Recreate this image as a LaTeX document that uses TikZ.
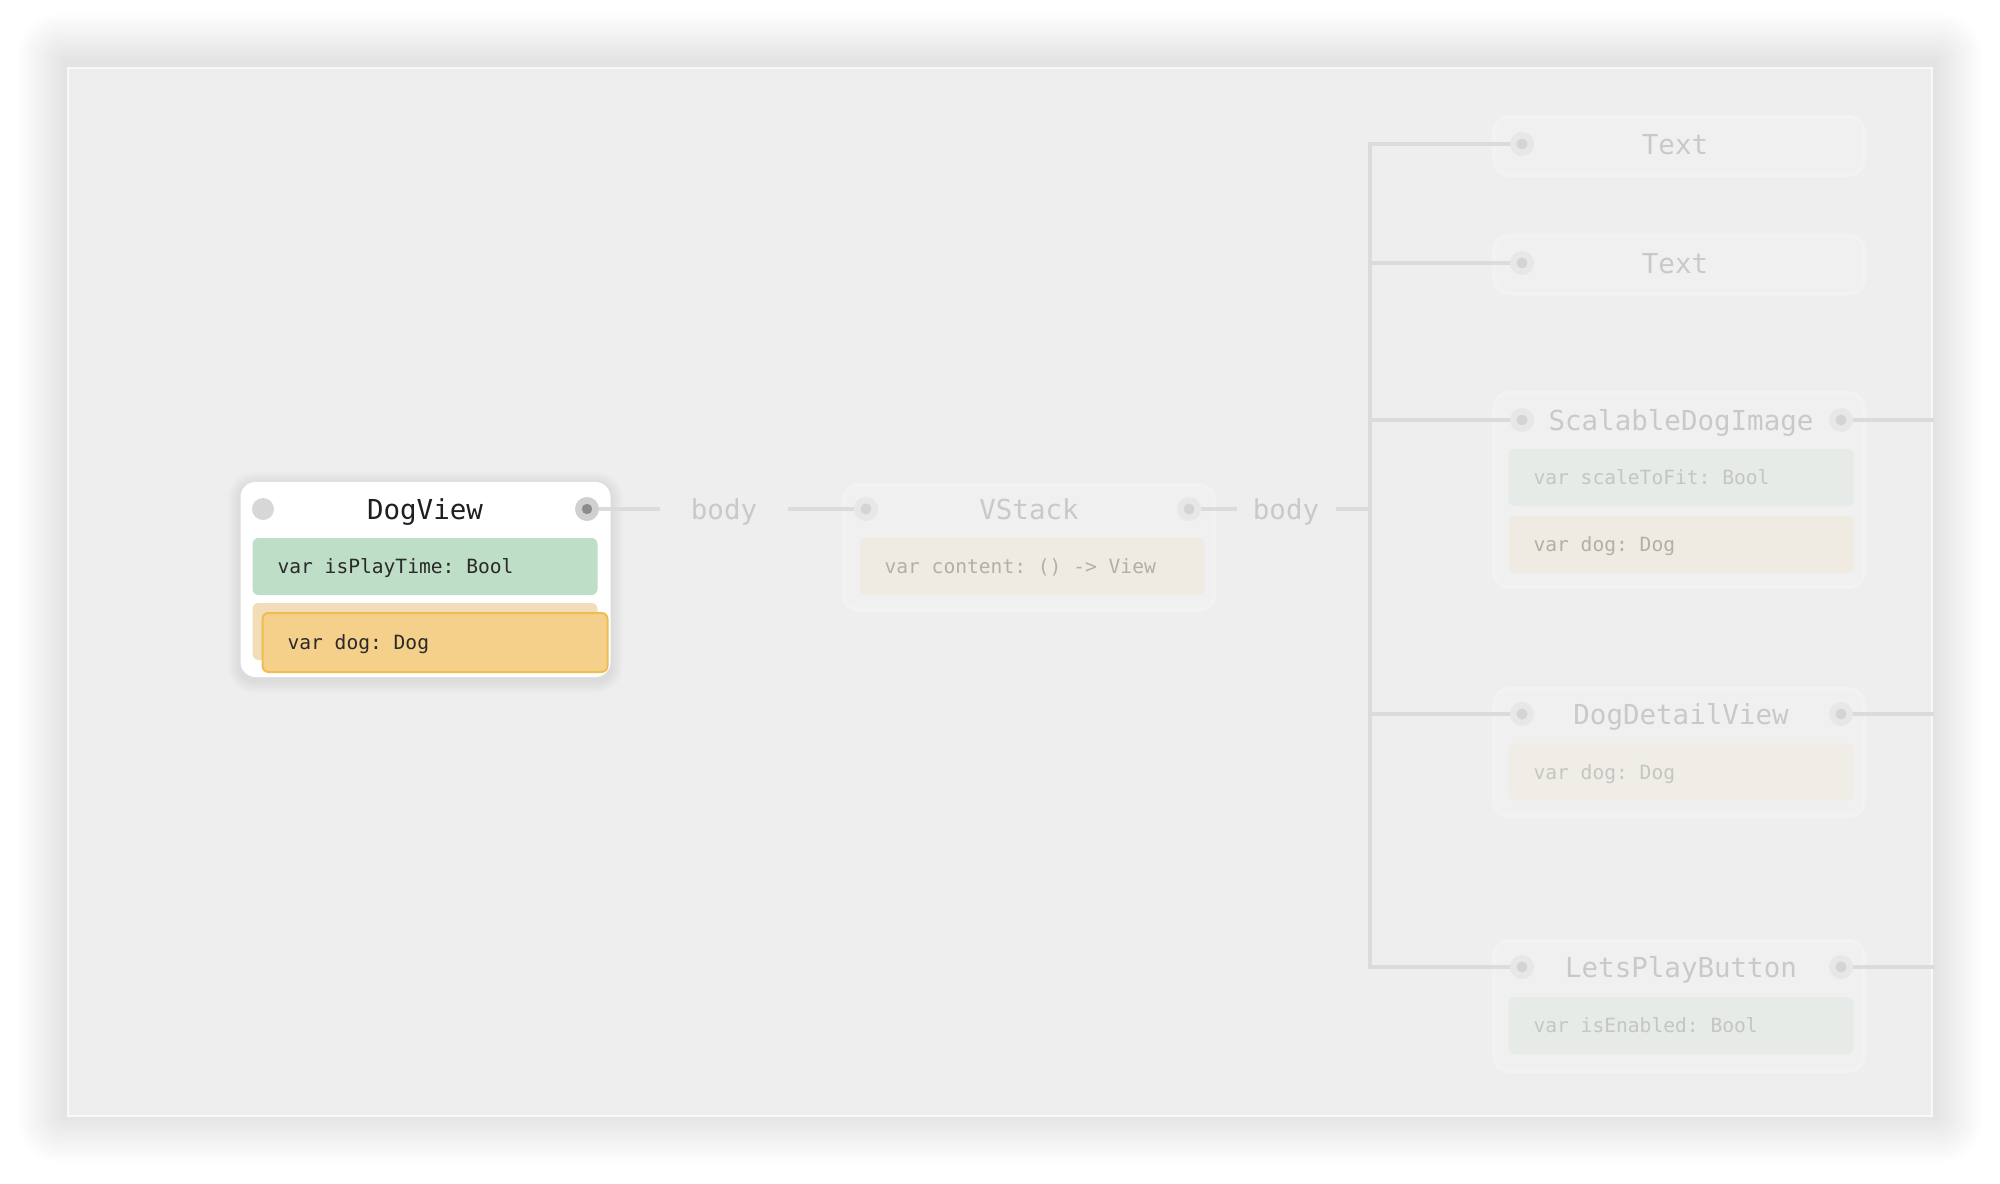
\documentclass[tikz,border=0pt]{standalone}
\usepackage{fontspec}
\setmonofont{DejaVu Sans Mono}
\usetikzlibrary{positioning}

\definecolor{panelbg}{HTML}{EDEEED}
\definecolor{cardfade}{HTML}{EFF0EF}
\definecolor{cardedge}{HTML}{F1F2F1}
\definecolor{wiregray}{HTML}{DADBDA}
\definecolor{boolgreen}{HTML}{BFDEC7}
\definecolor{dogorange}{HTML}{F5D08A}
\definecolor{dogedge}{HTML}{EEBD52}
\definecolor{dogback}{HTML}{F2DDB8}
\definecolor{fadegreen}{HTML}{E6EBE7}
\definecolor{fadebeige}{HTML}{EFEBE2}
\definecolor{fadetitle}{HTML}{C9C9C9}
\definecolor{fadecode}{HTML}{B2AFA8}
\definecolor{fadecodeg}{HTML}{C3C6C3}
\definecolor{portgray}{HTML}{D7D7D7}
\definecolor{activegray}{HTML}{D0D0D0}
\definecolor{portdark}{HTML}{8C8C8C}
\definecolor{porthalo}{HTML}{E6E7E6}
\definecolor{portcore}{HTML}{D3D4D3}
\definecolor{titledark}{HTML}{1F1F1F}
\definecolor{codedark}{HTML}{2A2A2A}

\begin{document}
\begin{tikzpicture}[x=0.5pt, y=-0.5pt,
    card/.style={rounded corners=7.5pt, minimum width=185pt, inner sep=0pt},
    fadecard/.style={card, fill=cardfade, draw=cardedge, line width=2pt},
    title/.style={font=\ttfamily\fontsize{13.75}{16}\selectfont, text height=10pt,
      text depth=0pt, inner sep=0pt},
    code/.style={font=\ttfamily\fontsize{9.8}{12}\selectfont, text height=7.2pt,
      text depth=0pt, text width=147.5pt, align=flush left, inner xsep=12.5pt,
      minimum height=28.5pt, rounded corners=3pt,
      execute at begin node={\spaceskip=0pt\xspaceskip=0pt}},
    port/.style={circle, inner sep=0pt, minimum size=11pt, fill=portgray},
    activeport/.style={port, minimum size=12pt, fill=activegray,
      path picture={\fill[portdark] (path picture bounding box.center) circle (2.6pt);}},
    fadeport/.style={circle, inner sep=0pt, minimum size=12pt, fill=porthalo,
      path picture={\fill[portcore] (path picture bounding box.center) circle (2.75pt);}},
    wire/.style={wiregray, line width=1.8pt},
    bodylabel/.style={title, text=fadetitle}]
  \useasboundingbox (0,0) rectangle (2000,1183);

  \foreach \i in {1,...,14}
    \fill[black, opacity=0.009, rounded corners={\i*1.5pt}]
      (67-3.5*\i,63-3.5*\i) rectangle (1933+3.5*\i,1113+3.5*\i);
  \fill[panelbg] (67,67) rectangle (1933,1117);
  \draw[white, opacity=0.6, line width=0.8pt] (68,68) rectangle (1932,1116);

  % DogView
  \foreach \i in {1,...,6}
    \fill[black, opacity=0.012, rounded corners={7.5pt+\i*1pt}]
      (240-2*\i,484-2*\i) rectangle (611+2*\i,681+2*\i);
  \node[card, fill=white, minimum height=97.5pt] (dogview) at (425.5,579.5) {};
  \node[title, text=titledark] (dogview-title) at (425,509) {DogView};
  \node[port] (dv-in) at (263,509) {};
  \node[activeport] (dv-out) at (587,509) {};
  \node[code, fill=boolgreen, text=codedark] (playtime) at (425,566.5) {var isPlayTime: Bool};
  \node[code, fill=dogback] (dog-back) at (425,631.5) {};
  \node[code, fill=dogorange, draw=dogedge, line width=1pt, minimum height=29.5pt,
    text=codedark] (dog) at (435,642.5) {var dog: Dog};

  % VStack
  \node[fadecard, minimum height=62.5pt] (vstack) at (1029,547.5) {};
  \node[title, text=fadetitle] (vstack-title) at (1029,509) {VStack};
  \node[fadeport] (vs-in) at (866,509) {};
  \node[fadeport] (vs-out) at (1189,509) {};
  \node[code, fill=fadebeige, text=fadecode] (content) at (1032,566) {var content: () -> View};

  \node[bodylabel, inner xsep=15pt] (body1) at (724,509) {body};
  \node[bodylabel, inner xsep=8pt] (body2) at (1286,509) {body};

  % children
  \node[fadecard, minimum height=29pt] (text1) at (1679,146) {};
  \node[title, text=fadetitle] (text1-title) at (1675,144) {Text};
  \node[fadeport] (t1-in) at (1522,144) {};

  \node[fadecard, minimum height=29pt] (text2) at (1679,264.5) {};
  \node[title, text=fadetitle] (text2-title) at (1675,263) {Text};
  \node[fadeport] (t2-in) at (1522,263) {};

  \node[fadecard, minimum height=97pt] (scalable) at (1679,490) {};
  \node[title, text=fadetitle] (scalable-title) at (1681,420) {ScalableDogImage};
  \node[fadeport] (sd-in) at (1522,420) {};
  \node[fadeport] (sd-out) at (1841,420) {};
  \node[code, fill=fadegreen, text=fadecodeg] (scaletofit) at (1681,477.5) {var scaleToFit: Bool};
  \node[code, fill=fadebeige, text=fadecode] (sd-dog) at (1681,544) {var dog: Dog};

  \node[fadecard, minimum height=63.5pt] (detail) at (1679,752.5) {};
  \node[title, text=fadetitle] (detail-title) at (1681,714) {DogDetailView};
  \node[fadeport] (dd-in) at (1522,714) {};
  \node[fadeport] (dd-out) at (1841,714) {};
  \node[code, fill=fadebeige!70!cardfade, text=fadecodeg] (dd-dog) at (1681,772) {var dog: Dog};

  \node[fadecard, minimum height=65pt] (button) at (1679,1006) {};
  \node[title, text=fadetitle] (button-title) at (1681,967) {LetsPlayButton};
  \node[fadeport] (lp-in) at (1522,967) {};
  \node[fadeport] (lp-out) at (1841,967) {};
  \node[code, fill=fadegreen, text=fadecodeg] (enabled) at (1681,1025.5) {var isEnabled: Bool};

  \coordinate (bus) at (1370,509);
  \coordinate (bus-end) at (1370,967);
  \coordinate (edge) at (1934,0);

  \draw[wire] (dv-out) -- (body1);
  \draw[wire] (body1) -- (vs-in);
  \draw[wire] (vs-out) -- (body2);
  \draw[wire] (body2) -- (bus);
  \draw[wire] (t1-in) -| (bus-end) -- (lp-in);
  \foreach \p in {t2,sd,dd}
    \draw[wire] (\p-in) -- (\p-in -| bus);
  \foreach \p in {sd,dd,lp}
    \draw[wire] (\p-out) -- (\p-out -| edge);
\end{tikzpicture}
\end{document}
